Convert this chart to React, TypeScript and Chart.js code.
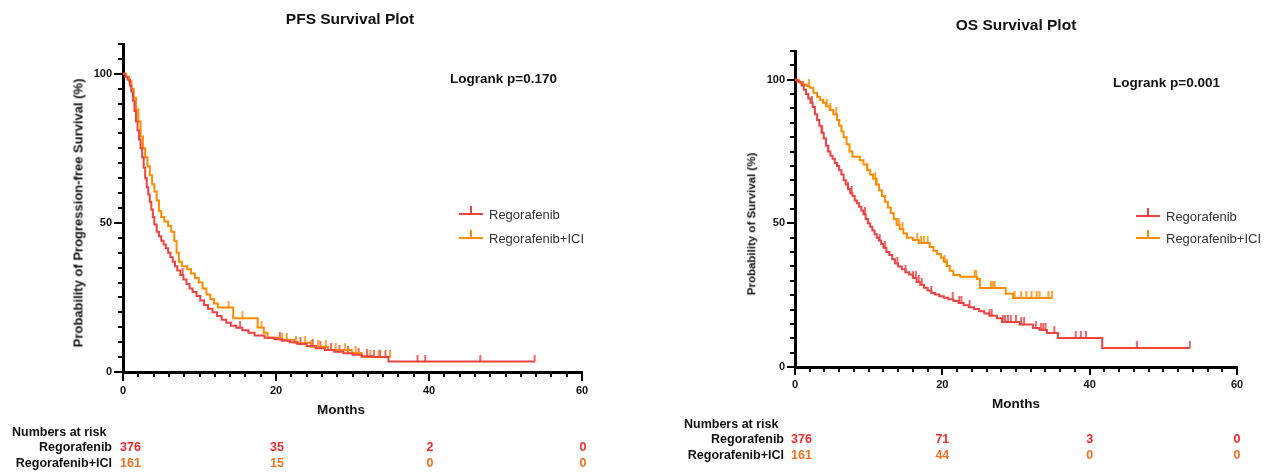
import React, { useEffect, useRef } from 'react';
import { Chart, registerables } from 'chart.js';

Chart.register(...registerables);

const FONT = '"Liberation Sans", Arial, Helvetica, sans-serif';
const RED = '#EF4242';
const ORANGE = '#FF8C00';
const RISK_RED = '#EE2A2A';
const RISK_ORANGE = '#F37021';

// ---------- PFS (progression-free survival) ----------
const pfsRegTimes = [0, 0.3, 0.6, 0.9, 1.1, 1.3, 1.5, 1.7, 1.9, 2.1, 2.3, 2.5, 2.7, 2.9, 3.1, 3.3, 3.5, 3.7, 3.9, 4.1, 4.4, 4.7, 5.0, 5.3, 5.6, 5.9, 6.2, 6.5, 6.8, 7.1, 7.5, 7.9, 8.3, 8.7, 9.1, 9.6, 10.1, 10.6, 11.1, 11.7, 12.3, 12.9, 13.5, 14.1, 14.8, 15.6, 16.4, 17.2, 18.5, 19.8, 20.8, 21.8, 22.8, 24.0, 25.2, 26.4, 27.6, 28.8, 30.0, 31.2, 32.6, 34.7, 53.8];
const pfsRegSurv = [100, 99, 98, 96, 94, 91, 87.5, 84, 81, 78, 75, 72, 68.5, 65, 62, 59.5, 57, 54.5, 52, 49.5, 47, 45.5, 44, 42.8, 41.5, 40, 38.5, 37, 35.5, 34, 32.5, 31, 29.5, 28, 26.8, 25.5, 24, 22.5, 21.2, 20, 18.8, 17.5, 16.5, 15.5, 14.8, 14, 13.2, 12.2, 11.5, 11, 10.5, 10, 9.4, 8.7, 8, 7.4, 6.8, 6.3, 5.8, 5.3, 5.0, 3.5, 3.5];
const pfsRegCensor = [7.8, 15.3, 20.5, 23.2, 24.8, 25.8, 27.2, 28.3, 29.4, 30.8, 31.9, 32.8, 33.6, 34.3, 38.5, 39.5, 46.7, 53.8];

const pfsIciTimes = [0, 0.4, 0.8, 1.1, 1.4, 1.7, 2.0, 2.3, 2.6, 2.9, 3.2, 3.5, 3.8, 4.1, 4.4, 4.7, 5.0, 5.4, 5.9, 6.3, 6.7, 7.0, 7.3, 7.7, 8.4, 8.9, 9.4, 9.9, 10.4, 10.9, 11.4, 11.9, 12.4, 14.4, 17.6, 18.4, 18.9, 20.6, 22.4, 24.6, 26.8, 29.9, 31.2, 34.9];
const pfsIciSurv = [100, 99, 97.5, 95, 92, 88, 84, 79, 75, 72, 69, 66, 63, 60.5, 57.5, 54, 52, 50.5, 49, 47, 44, 40, 37, 35.5, 34.5, 33, 31.5, 30, 28, 26, 24.5, 23, 21.6, 18, 14.9, 13.2, 11.5, 10.8, 9.8, 8.5, 7.4, 6.4, 5, 5];
const pfsIciCensor = [13.8, 15.6, 18.1, 20.8, 21.4, 22.6, 23.8, 24.6, 25.5, 26.5, 27.8, 29.0, 30.4, 32.3, 33.4, 34.9];

// ---------- OS (overall survival) ----------
const osRegTimes = [0, 0.3, 0.6, 0.9, 1.2, 1.5, 1.8, 2.1, 2.4, 2.7, 3.0, 3.3, 3.6, 3.9, 4.2, 4.5, 4.8, 5.1, 5.4, 5.7, 6.0, 6.3, 6.6, 6.9, 7.2, 7.5, 7.8, 8.1, 8.4, 8.7, 9.0, 9.3, 9.6, 9.9, 10.2, 10.5, 10.8, 11.1, 11.4, 11.7, 12.0, 12.4, 12.8, 13.2, 13.6, 14.0, 14.5, 15.0, 15.5, 16.0, 16.5, 17.0, 17.5, 18.0, 18.5, 19.0, 19.6, 20.2, 20.8, 21.5, 22.2, 22.9, 23.6, 24.3, 25.0, 25.7, 26.4, 27.4, 28.1, 30.5, 32.3, 33.2, 34.2, 35.7, 41.7, 53.6];
const osRegSurv = [100, 99.5, 99, 98, 96.5, 95, 93.5, 92, 90.5, 88, 86, 84, 81.5, 79.5, 77, 75, 73.5, 72.5, 71, 70, 68.5, 67, 65, 63.5, 62, 60.5, 59.5, 58, 57, 55.8, 54.5, 53.2, 51.5, 50, 48.8, 47.5, 46.2, 45, 44, 42.8, 41.5, 40, 39, 37.5, 36, 35, 34, 33, 32.2, 31, 29.6, 28.6, 27.6, 26.6, 25.8, 25.2, 24.6, 24.1, 23.6, 23, 22.3, 21.5, 20.8, 20.2, 19.4, 18.6, 17.8, 17, 15.7, 14.8, 13.6, 12.9, 11.8, 10.1, 6.6, 6.6];
const osRegCensor = [2.3, 3.7, 4.5, 7.2, 7.7, 9.5, 11.5, 12.2, 13.9, 15.0, 16.0, 16.4, 16.8, 17.2, 18.5, 21.4, 22.3, 22.6, 23.7, 26.4, 26.7, 28.2, 28.5, 28.9, 29.3, 30.0, 30.7, 31.1, 32.7, 33.4, 33.7, 34.0, 35.2, 38.1, 38.8, 39.5, 46.4, 53.6];

const osIciTimes = [0, 0.5, 1.1, 1.6, 2.0, 2.5, 3.0, 3.4, 3.8, 4.2, 4.7, 5.2, 5.7, 6.0, 6.3, 6.6, 7.0, 7.4, 7.8, 8.8, 9.3, 9.8, 10.2, 10.6, 11.0, 11.4, 11.8, 12.2, 12.6, 13.0, 13.4, 13.8, 14.2, 14.7, 15.2, 16.0, 16.8, 18.3, 18.8, 19.3, 19.8, 20.2, 20.6, 21.0, 21.5, 22.4, 24.7, 25.1, 28.6, 29.6, 34.9];
const osIciSurv = [100, 99.2, 98.3, 97.8, 97.2, 95.5, 94, 93, 92, 90.8, 89.5, 88, 86, 84, 82, 80, 77.5, 75, 73.2, 72, 70.5, 68.5, 67, 65.5, 63.5, 61.5, 59.5, 57.5, 55.5, 53.6, 51.5, 49.5, 48, 46.5, 45, 44.2, 43.2, 41.8, 40.5, 39.3, 38, 36.6, 35.2, 33.5, 32, 31.4, 30.6, 27.5, 25.5, 24, 24];
const osIciCensor = [1.9, 4.3, 4.8, 5.6, 9.8, 10.9, 11.1, 14.1, 14.6, 16.6, 17.1, 17.5, 18.0, 20.3, 20.6, 24.4, 24.6, 26.6, 26.9, 27.1, 29.8, 30.7, 31.4, 32.1, 32.8, 33.2, 34.4, 34.9];

// ---------- axes / numbers at risk ----------
const xTickLabels = [0, 20, 40, 60];
const yTickLabels = [0, 50, 100];
const groupNames = ['Regorafenib', 'Regorafenib+ICI'];
const pfsRiskReg = [376, 35, 2, 0];
const pfsRiskIci = [161, 15, 0, 0];
const osRiskReg = [376, 71, 3, 0];
const osRiskIci = [161, 44, 0, 0];

function survAt(times: number[], surv: number[], t: number) {
  let s = surv[0];
  for (let i = 0; i < times.length; i++) if (times[i] <= t) s = surv[i];
  return s;
}

function makeCensorImg(color: string) {
  const c = document.createElement('canvas');
  c.width = 4;
  c.height = 14;
  const g = c.getContext('2d')!;
  g.strokeStyle = color;
  g.lineWidth = 1.6;
  g.beginPath();
  g.moveTo(2, 0);
  g.lineTo(2, 7.5);
  g.stroke();
  return c;
}

const axisTicks = {
  id: 'axisTicks',
  afterDraw(chart: any, _args: any, opts: any) {
    const { ctx, chartArea, scales } = chart;
    ctx.save();
    ctx.strokeStyle = '#000';
    ctx.lineWidth = 2;
    ctx.beginPath();
    scales.x.ticks.forEach((t: any) => {
      const px = Math.round(scales.x.getPixelForValue(t.value));
      const len = xTickLabels.includes(t.value) ? opts.major : opts.minor;
      ctx.moveTo(px, chartArea.bottom);
      ctx.lineTo(px, chartArea.bottom + len);
    });
    scales.y.ticks.forEach((t: any) => {
      const py = Math.round(scales.y.getPixelForValue(t.value));
      const len = yTickLabels.includes(t.value) ? opts.major : opts.minor;
      ctx.moveTo(chartArea.left, py);
      ctx.lineTo(chartArea.left - len, py);
    });
    ctx.stroke();
    ctx.restore();
  },
};

type Spec = {
  regT: number[]; regS: number[]; regC: number[];
  iciT: number[]; iciS: number[]; iciC: number[];
  width: number; height: number;
  left: number; right: number; top: number; bottom: number;
  xPad: number; yPad: number; major: number; minor: number;
};

function KMChart({ spec, style }: { spec: Spec; style: React.CSSProperties }) {
  const ref = useRef<HTMLCanvasElement>(null);
  useEffect(() => {
    const s = spec;
    const toPts = (T: number[], S: number[]) => T.map((t, i) => ({ x: t, y: S[i] }));
    const cens = (C: number[], T: number[], S: number[]) => C.map((t) => ({ x: t, y: survAt(T, S, t) }));
    const xH = 30;
    const chart = new Chart(ref.current!, {
      type: 'line',
      data: {
        datasets: [
          { data: toPts(s.regT, s.regS), borderColor: RED, borderWidth: 2, stepped: true, pointRadius: 0, fill: false },
          { data: toPts(s.iciT, s.iciS), borderColor: ORANGE, borderWidth: 2, stepped: true, pointRadius: 0, fill: false },
          { type: 'scatter', data: cens(s.regC, s.regT, s.regS), pointStyle: makeCensorImg(RED) as any, pointRadius: 5, showLine: false },
          { type: 'scatter', data: cens(s.iciC, s.iciT, s.iciS), pointStyle: makeCensorImg(ORANGE) as any, pointRadius: 5, showLine: false },
        ] as any,
      },
      options: {
        animation: false,
        responsive: false,
        maintainAspectRatio: false,
        events: [],
        layout: { padding: { left: 0, top: s.top, right: s.width - s.right, bottom: s.height - s.bottom - xH } },
        plugins: { legend: { display: false }, tooltip: { enabled: false }, title: { display: false }, axisTicks: { major: s.major, minor: s.minor } } as any,
        scales: {
          x: {
            type: 'linear', min: 0, max: 60,
            afterFit: (sc: any) => { sc.height = xH; },
            grid: { display: false, drawTicks: true, tickLength: 8 },
            border: { display: true, color: '#000', width: 3 },
            ticks: {
              stepSize: 2, autoSkip: false, maxRotation: 0, padding: s.xPad, color: '#111',
              font: { family: FONT, size: 11, weight: 'bold' },
              callback: (v: any) => (xTickLabels.includes(v) ? String(v) : ''),
            },
          },
          y: {
            type: 'linear', min: 0, max: 110,
            afterFit: (sc: any) => { sc.width = s.left; },
            grid: { display: false, drawTicks: true, tickLength: 8 },
            border: { display: true, color: '#000', width: 3 },
            ticks: {
              stepSize: 5, autoSkip: false, padding: s.yPad, color: '#111',
              font: { family: FONT, size: 11, weight: 'bold' },
              callback: (v: any) => (yTickLabels.includes(v) ? String(v) : ''),
            },
          },
        },
      } as any,
      plugins: [axisTicks],
    });
    return () => chart.destroy();
  }, [spec]);
  return <canvas ref={ref} width={spec.width} height={spec.height} style={{ position: 'absolute', width: spec.width, height: spec.height, ...style }} />;
}

function T({ x, y, align = 'left', children, style }: { x: number; y: number; align?: 'left' | 'center' | 'right'; children: React.ReactNode; style?: React.CSSProperties }) {
  const tx = align === 'left' ? '0' : align === 'center' ? '-50%' : '-100%';
  return (
    <div style={{ position: 'absolute', left: x, top: y, transform: `translate(${tx}, -50%)`, whiteSpace: 'nowrap', lineHeight: 1, fontFamily: FONT, color: '#111', ...style }}>
      {children}
    </div>
  );
}

function LegendRow({ x, y, color, label }: { x: number; y: number; color: string; label: string }) {
  return (
    <>
      <div style={{ position: 'absolute', left: x, top: y - 1, width: 24, height: 2, background: color }} />
      <div style={{ position: 'absolute', left: x + 11, top: y - 8, width: 2, height: 8, background: color }} />
      <T x={x + 30} y={y} style={{ fontSize: 13, color: '#333' }}>{label}</T>
    </>
  );
}

const pfsSpec: Spec = {
  regT: pfsRegTimes, regS: pfsRegSurv, regC: pfsRegCensor,
  iciT: pfsIciTimes, iciS: pfsIciSurv, iciC: pfsIciCensor,
  width: 640, height: 474, left: 123, right: 582, top: 44, bottom: 372,
  xPad: 4, yPad: 3, major: 9, minor: 5,
};
const osSpec: Spec = {
  regT: osRegTimes, regS: osRegSurv, regC: osRegCensor,
  iciT: osIciTimes, iciS: osIciSurv, iciC: osIciCensor,
  width: 636, height: 474, left: 155, right: 597, top: 51, bottom: 367,
  xPad: 3, yPad: 2, major: 8, minor: 5,
};

export default function App() {
  const riskFont: React.CSSProperties = { fontSize: 12.5, fontWeight: 'bold' };
  const pfsX = (i: number) => 123 + (xTickLabels[i] / 60) * (582 - 123) + 1;
  const osX = (i: number) => 795 + (xTickLabels[i] / 60) * (1237 - 795);
  return (
    <div style={{ position: 'absolute', left: 0, top: 0, width: 1276, height: 474, overflow: 'hidden', background: '#fff' }}>
      <KMChart spec={pfsSpec} style={{ left: 0, top: 0 }} />
      <KMChart spec={osSpec} style={{ left: 640, top: 0 }} />

      {/* PFS texts */}
      <T x={350} y={19} align="center" style={{ fontSize: 15.5, fontWeight: 'bold' }}>PFS Survival Plot</T>
      <T x={450} y={79} style={{ fontSize: 13.5, fontWeight: 'bold' }}>Logrank p=0.170</T>
      <div style={{ position: 'absolute', left: 78, top: 213, transform: 'translate(-50%, -50%) rotate(-90deg)', whiteSpace: 'nowrap', lineHeight: 1, fontFamily: FONT, fontWeight: 'bold', fontSize: 13, color: '#111' }}>
        Probability of Progression-free Survival (%)
      </div>
      <T x={341} y={410} align="center" style={{ fontSize: 13.5, fontWeight: 'bold' }}>Months</T>
      <LegendRow x={459} y={214} color={RED} label={groupNames[0]} />
      <LegendRow x={459} y={238} color={ORANGE} label={groupNames[1]} />
      <T x={12} y={432} style={riskFont}>Numbers at risk</T>
      <T x={112} y={447} align="right" style={riskFont}>{groupNames[0]}</T>
      <T x={112} y={463} align="right" style={riskFont}>{groupNames[1]}</T>
      {pfsRiskReg.map((n, i) => (
        <T key={'pr' + i} x={i === 0 ? 120 : pfsX(i)} y={447} align={i === 0 ? 'left' : 'center'} style={{ ...riskFont, color: RISK_RED }}>{n}</T>
      ))}
      {pfsRiskIci.map((n, i) => (
        <T key={'pi' + i} x={i === 0 ? 120 : pfsX(i)} y={463} align={i === 0 ? 'left' : 'center'} style={{ ...riskFont, color: RISK_ORANGE }}>{n}</T>
      ))}

      {/* OS texts */}
      <T x={1016} y={25} align="center" style={{ fontSize: 15.5, fontWeight: 'bold' }}>OS Survival Plot</T>
      <T x={1113} y={83} style={{ fontSize: 13.5, fontWeight: 'bold' }}>Logrank p=0.001</T>
      <div style={{ position: 'absolute', left: 752, top: 224, transform: 'translate(-50%, -50%) rotate(-90deg)', whiteSpace: 'nowrap', lineHeight: 1, fontFamily: FONT, fontWeight: 'bold', fontSize: 11.5, color: '#111' }}>
        Probability of Survival (%)
      </div>
      <T x={1016} y={404} align="center" style={{ fontSize: 13.5, fontWeight: 'bold' }}>Months</T>
      <LegendRow x={1136} y={216} color={RED} label={groupNames[0]} />
      <LegendRow x={1136} y={238} color={ORANGE} label={groupNames[1]} />
      <T x={684} y={424} style={riskFont}>Numbers at risk</T>
      <T x={784} y={439} align="right" style={riskFont}>{groupNames[0]}</T>
      <T x={784} y={455} align="right" style={riskFont}>{groupNames[1]}</T>
      {osRiskReg.map((n, i) => (
        <T key={'or' + i} x={i === 0 ? 791 : osX(i)} y={439} align={i === 0 ? 'left' : 'center'} style={{ ...riskFont, color: RISK_RED }}>{n}</T>
      ))}
      {osRiskIci.map((n, i) => (
        <T key={'oi' + i} x={i === 0 ? 791 : osX(i)} y={455} align={i === 0 ? 'left' : 'center'} style={{ ...riskFont, color: RISK_ORANGE }}>{n}</T>
      ))}
    </div>
  );
}
